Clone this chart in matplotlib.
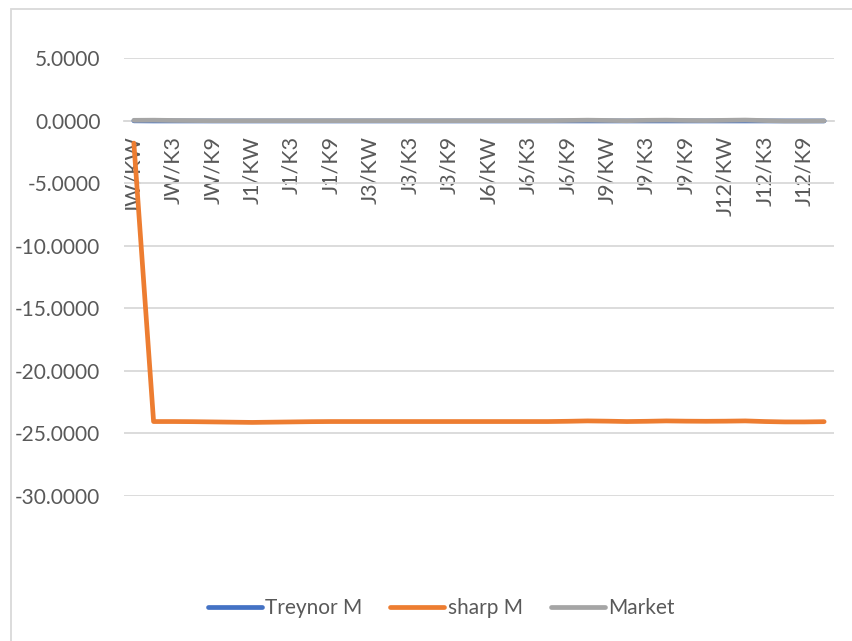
import matplotlib.pyplot as plt
from matplotlib.patches import Rectangle

# categories
j_groups = ["JW", "J1", "J3", "J6", "J9", "J12"]
k_groups = ["KW", "K1", "K3", "K6", "K9", "K12"]
cats = [j + "/" + k for j in j_groups for k in k_groups]

# series
treynor = [-0.02, -0.03, -0.03, -0.03, -0.03, -0.03,
           -0.03, -0.03, -0.03, -0.03, -0.03, -0.03,
           -0.03, -0.03, -0.03, -0.03, -0.03, -0.03,
           -0.03, -0.03, -0.03, -0.03, -0.03, -0.03,
           -0.03, -0.03, -0.03, -0.03, -0.03, -0.03,
           -0.03, -0.03, -0.03, -0.03, -0.03, -0.03]
sharp = [-1.8, -24.05, -24.05, -24.06, -24.08, -24.1,
         -24.12, -24.1, -24.08, -24.06, -24.05, -24.05,
         -24.05, -24.05, -24.05, -24.05, -24.05, -24.05,
         -24.05, -24.05, -24.05, -24.05, -24.03, -24.0,
         -24.02, -24.05, -24.03, -24.0, -24.02, -24.03,
         -24.02, -24.0, -24.05, -24.08, -24.08, -24.06]
market = [0.02, 0.03, 0.01, 0.0, -0.01, -0.01,
          -0.01, -0.01, -0.01, -0.01, -0.01, -0.01,
          -0.01, -0.01, -0.01, -0.01, -0.01, -0.01,
          -0.01, -0.01, -0.01, -0.01, 0.01, 0.03,
          0.01, -0.01, 0.02, 0.03, 0.01, 0.0,
          0.02, 0.04, 0.0, -0.03, -0.03, -0.02]

txt = "#595959"
plt.rcParams['font.family'] = ['Lato', 'DejaVu Sans']

fig = plt.figure(figsize=(8.52, 6.41), dpi=100)
ax = fig.add_axes([124/852, 1-496/641, 710/852, 438/641])

x = list(range(len(cats)))
ax.plot(x, treynor, color="#4472C4", lw=3.4, solid_capstyle='round', label="Treynor M", zorder=3)
ax.plot(x, sharp, color="#ED7D31", lw=3.4, solid_capstyle='round', label="sharp M", zorder=4)
ax.plot(x, market, color="#A5A5A5", lw=3.4, solid_capstyle='round', label="Market", zorder=5)

for s in ["top", "right", "left"]:
    ax.spines[s].set_visible(False)
# category axis crosses at zero
ax.spines['bottom'].set_position(('data', 0))
ax.spines['bottom'].set_color("#D9D9D9")
ax.spines['bottom'].set_linewidth(1.3)

ax.set_xlim(-0.5, len(cats) - 0.5)
ax.set_ylim(-30, 5)
ax.set_yticks([5, 0, -5, -10, -15, -20, -25, -30])
ax.yaxis.set_major_formatter(plt.FuncFormatter(lambda v, p: f"{v:.4f}"))
ax.grid(axis='y', color="#D9D9D9", lw=1.3)
ax.set_axisbelow(True)

ax.set_xticks(x[::2])
ax.set_xticklabels(cats[::2])
ax.tick_params(axis='x', length=0, pad=11, labelsize=15.5, labelcolor=txt, labelrotation=90)
ax.tick_params(axis='y', length=0, pad=17, labelsize=15, labelcolor=txt)

fig.legend(loc='center', bbox_to_anchor=(441/852, 1-608/641), ncol=3, frameon=False,
           fontsize=15, handlelength=2.6, handletextpad=0.15, columnspacing=1.35,
           labelcolor=txt)

fig.patches.append(Rectangle((11/852, -0.05), 1.0, 1.05 - 9/641, transform=fig.transFigure,
                             fill=False, edgecolor="#D9D9D9", lw=1.3))

fig.savefig("out.png", dpi=100)
